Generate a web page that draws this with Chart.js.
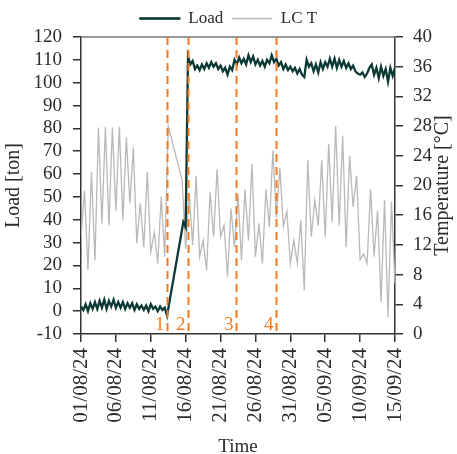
<!DOCTYPE html>
<html><head><meta charset="utf-8">
<script src="https://cdn.jsdelivr.net/npm/chart.js@4/dist/chart.umd.min.js"></script>
<style>html,body{margin:0;padding:0;background:#fff}#wrap{width:457px;height:454px;position:relative}</style>
</head><body><div id="wrap"><canvas id="c"></canvas></div>
<script>
// ---- data ----
const startDateUTC = Date.UTC(2024, 7, 1);      // 01/08/24 = day 0
const xTickDays = [0, 5, 10, 15, 20, 25, 30, 35, 40, 45];
const loadYTicks = [-10, 0, 10, 20, 30, 40, 50, 60, 70, 80, 90, 100, 110, 120];
const tempYTicks = [0, 4, 8, 12, 16, 20, 24, 28, 32, 36, 40];

const loadStepDays = 1 / 3;
const loadValues = [
  2, 0.5, 3,
  0, 3.5, 1,
  4, 1, 4.5,
  1.5, 5, 1,
  4.5, 2, 5,
  1.5, 4, 1.5,
  4, 1, 3.5,
  1.5, 3.5, 0.5,
  3, 1, 2.5,
  0.5, 2.5, 0,
  3, 1, 2,
  0, 2, 0.5,
  1.5, -2, null,
  null, null, null,
  null, null, 39,
  36.8, 111.5, 108,
  109.5, 106, 107.5,
  105.5, 108, 106,
  108.5, 106.5, 109,
  107, 108.5, 106,
  107.5, 105, 106.5,
  103.5, 107, 105.5,
  110, 108, 111,
  108.5, 110.5, 108,
  112, 109, 111.5,
  108, 110, 107.5,
  109.5, 107, 110,
  108.5, 112, 109,
  110.5, 107.5, 109,
  106, 108, 105.5,
  107, 105, 106.5,
  104, 106, 103.5,
  102.5, 110, 107,
  108.5, 105, 108,
  104.5, 109, 106,
  109, 107, 110.5,
  107, 110.5, 106.5,
  110, 107, 109.5,
  106.5, 108.5, 106,
  107.5, 105, 104,
  103.5, 104.5, 102.5,
  104, 106.5, 108,
  103.5, 106.5, 102,
  107, 103, 106,
  100.5, 106.5, 103,
  106.5
];

const tempStepDays = 0.5;
const tempValues = [
  13, 19.3,   8.6, 21.8,   9.9, 27.8,   14.9, 27.9,   14.6, 27.8,
  16.6, 27.9, 15.3, 26.5,  17.6, 25.1,  12.2, 17.6,   11.7, 21.8,
  11.0, 13.7, 9.5, 18.5,   10.4, 28.0,  null, null,   null, 20.7,
  11.5, 19,   12, 21.3,    10.4, 12.6,  8.6, 19.1,    13.1, 22.2,
  13.1, 14.6, 7.7, 16.9,   11.7, 18.8,  9.9, 19.5,    12.6, 22.9,
  10.4, 14.9, 9.5, 19.5,   14.4, 24.7,  15.7, 22.4,   14.5, 16.5,
  9.5, 12.6,  9.5, 15.3,   5.9, 23.4,   13.1, 18.0,   14.6, 23.4,
  13.1, 25.6, 15.1, 28.0,  14.6, 26.7,  11.7, 24.0,   17.1, 21.3,
  10, 10.8,   9.5, 19.5,   10.4, 16.6,  4.3, 18.0,    2.3, 17.8,
  6.8
];

const eventDays = [12.3, 15.3, 22.2, 27.9];
const eventLabels = ['1', '2', '3', '4'];

// ---- chart ----
const FONT = "'Liberation Serif', 'DejaVu Serif', serif";
const AXIS = '#333333';
const TEXT = '#2b2b2b';
const LOAD_COLOR = '#0c3935';
const TEMP_COLOR = '#b9b9b9';
const EVENT_COLOR = '#f47a20';
const RIGHT_TITLE = 'Temperature [°C]';

function fmtDay(d) {
  const dt = new Date(startDateUTC + d * 86400000);
  const p = n => String(n).padStart(2, '0');
  return p(dt.getUTCDate()) + '/' + p(dt.getUTCMonth() + 1) + '/' + p(dt.getUTCFullYear() % 100);
}

const eventsPlugin = {
  id: 'events',
  afterDatasetsDraw(chart) {
    const { ctx, chartArea, scales } = chart;
    ctx.save();
    // top frame line
    ctx.strokeStyle = '#777';
    ctx.lineWidth = 1.5;
    ctx.beginPath();
    ctx.moveTo(chartArea.left, chartArea.top);
    ctx.lineTo(chartArea.right, chartArea.top);
    ctx.stroke();
    // event markers
    ctx.strokeStyle = EVENT_COLOR;
    ctx.lineWidth = 2;
    ctx.setLineDash([8, 5]);
    ctx.fillStyle = EVENT_COLOR;
    ctx.font = "19px " + FONT;
    ctx.textAlign = 'right';
    ctx.textBaseline = 'alphabetic';
    eventDays.forEach((d, i) => {
      const x = Math.round(scales.x.getPixelForValue(d)) + 0.5;
      ctx.beginPath();
      ctx.moveTo(x, chartArea.top);
      ctx.lineTo(x, chartArea.bottom);
      ctx.stroke();
      ctx.fillText(eventLabels[i], x - 3, chartArea.bottom - 4);
    });
    ctx.restore();
  },
  afterDraw(chart) {
    const { ctx, chartArea } = chart;
    ctx.save();
    ctx.fillStyle = TEXT;
    ctx.font = "20px " + FONT;
    ctx.textAlign = 'center';
    ctx.textBaseline = 'middle';
    ctx.translate(chart.width - 14, (chartArea.top + chartArea.bottom) / 2);
    ctx.rotate(-Math.PI / 2);
    ctx.fillText(RIGHT_TITLE, 0, 0);
    ctx.restore();
  }
};

new Chart(document.getElementById('c'), {
  type: 'line',
  data: {
    datasets: [
      {
        label: 'Load',
        data: loadValues.map((v, i) => ({ x: i * loadStepDays, y: v })),
        yAxisID: 'y',
        borderColor: LOAD_COLOR,
        backgroundColor: LOAD_COLOR,
        borderWidth: 2.3,
        pointRadius: 0,
        spanGaps: true,
        tension: 0
      },
      {
        label: 'LC T',
        data: tempValues.map((v, i) => ({ x: i * tempStepDays, y: v })),
        yAxisID: 'y1',
        borderColor: TEMP_COLOR,
        backgroundColor: TEMP_COLOR,
        borderWidth: 1.3,
        pointRadius: 0,
        spanGaps: true,
        tension: 0
      }
    ]
  },
  options: {
    responsive: true,
    maintainAspectRatio: false,
    animation: false,
    layout: { padding: { top: 1, left: 0, right: 0, bottom: 0 } },
    plugins: {
      tooltip: { enabled: false },
      legend: {
        position: 'top',
        labels: {
          font: { family: FONT, size: 17 },
          color: TEXT,
          boxWidth: 40,
          boxHeight: 1.5,
          padding: 9,
          generateLabels(chart) {
            const base = Chart.defaults.plugins.legend.labels.generateLabels(chart);
            return base.map((l, i) => Object.assign(l, {
              lineWidth: i === 0 ? 1.2 : 0,
              fillStyle: chart.data.datasets[i].borderColor,
              strokeStyle: chart.data.datasets[i].borderColor
            }));
          }
        }
      }
    },
    scales: {
      x: {
        type: 'linear',
        min: xTickDays[0],
        max: xTickDays[xTickDays.length - 1],
        afterBuildTicks(scale) { scale.ticks = xTickDays.map(v => ({ value: v })); },
        afterFit(scale) { scale.height = 120; },
        ticks: {
          autoSkip: false,
          maxRotation: 90,
          minRotation: 90,
          padding: 6,
          color: TEXT,
          font: { family: FONT, size: 21 },
          callback: v => fmtDay(v)
        },
        grid: { drawOnChartArea: false, drawTicks: true, tickLength: 8, color: AXIS, lineWidth: 1.5 },
        border: { display: true, color: AXIS, width: 1.5 },
        title: { display: true, text: 'Time', color: TEXT, font: { family: FONT, size: 19 }, padding: { top: 0, bottom: -4 } }
      },
      y: {
        position: 'left',
        min: -10,
        max: 120,
        afterBuildTicks(scale) { scale.ticks = loadYTicks.map(v => ({ value: v })); },
        afterFit(scale) { scale.width = 81; },
        ticks: { autoSkip: false, padding: 11, color: TEXT, font: { family: FONT, size: 19 } },
        grid: { drawOnChartArea: false, drawTicks: true, tickLength: 8, color: AXIS, lineWidth: 1.5 },
        border: { display: true, color: AXIS, width: 1.5 },
        title: { display: true, text: 'Load [ton]', color: TEXT, font: { family: FONT, size: 20 }, padding: { top: 2, bottom: 0 } }
      },
      y1: {
        position: 'right',
        min: 0,
        max: 40,
        afterBuildTicks(scale) { scale.ticks = tempYTicks.map(v => ({ value: v })); },
        afterFit(scale) { scale.width = 62; },
        ticks: { autoSkip: false, padding: 10, color: TEXT, font: { family: FONT, size: 19 } },
        grid: { drawOnChartArea: false, drawTicks: true, tickLength: 8, color: AXIS, lineWidth: 1.5 },
        border: { display: true, color: AXIS, width: 1.5 },
        title: { display: false }
      }
    }
  },
  plugins: [eventsPlugin]
});
</script>
</body></html>
